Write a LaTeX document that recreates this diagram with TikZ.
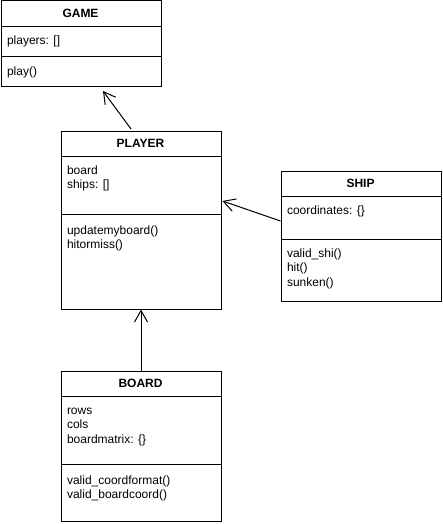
\documentclass[tikz,border=0pt]{standalone}
\usepackage{fontspec}
\setmainfont{Liberation Sans}
\usepackage{tikz}
\usetikzlibrary{arrows.meta}

\begin{document}
\begin{tikzpicture}[x=1pt, y=-1pt, line width=1pt,
    classbox/.style={draw, rectangle, inner sep=0pt, anchor=north west, minimum width=160pt},
    classname/.style={font=\fontsize{12pt}{14.4pt}\selectfont\bfseries, inner sep=0pt, anchor=base},
    member/.style={font=\fontsize{12pt}{14.4pt}\selectfont, inner sep=0pt, anchor=base west},
    assoc/.style={-{Straight Barb[length=11.5pt,width=13pt]}}]
             \useasboundingbox (0,0) rectangle (442,524);

             % GAME
             \node[classbox, minimum height=86pt] (game) at (0.5,0.5) {};
             \draw ([yshift=-26pt]game.north west) -- ([yshift=-26pt]game.north east);
             \draw ([yshift=-56pt]game.north west) -- ([yshift=-56pt]game.north east);
             \node[classname] (gamename) at (80.5,17.8) {GAME};
             \node[member] (gameplayers) at (6.5,44.5) {players: []};
             \node[member] (gameplay) at (6.5,76) {play()};

             % PLAYER
             \node[classbox, minimum height=178pt] (player) at (60.5,130.5) {};
             \draw ([yshift=-26pt]player.north west) -- ([yshift=-26pt]player.north east);
             \draw ([yshift=-84pt]player.north west) -- ([yshift=-84pt]player.north east);
             \node[classname] (playername) at (140.5,147.8) {PLAYER};
             \node[member] (playerboard) at (66.5,174.5) {board};
             \node[member] (playerships) at (66.5,188.9) {ships: []};
             \node[member] (playerupdate) at (66.5,234) {updatemyboard()};
             \node[member] (playerhit) at (66.5,248.4) {hitormiss()};

             % SHIP
             \node[classbox, minimum height=130pt] (ship) at (280.5,170.5) {};
             \draw ([yshift=-26pt]ship.north west) -- ([yshift=-26pt]ship.north east);
             \draw ([yshift=-69pt]ship.north west) -- ([yshift=-69pt]ship.north east);
             \node[classname] (shipname) at (360.5,187.8) {SHIP};
             \node[member] (shipcoords) at (286.5,214.5) {coordinates: \{\}};
             \node[member] (shipvalid) at (286.5,257.5) {valid\_shi()};
             \node[member] (shiphit) at (286.5,271.9) {hit()};
             \node[member] (shipsunken) at (286.5,286.3) {sunken()};

             % BOARD
             \node[classbox, minimum height=150pt] (board) at (60.5,370.5) {};
             \draw ([yshift=-26pt]board.north west) -- ([yshift=-26pt]board.north east);
             \draw ([yshift=-94pt]board.north west) -- ([yshift=-94pt]board.north east);
             \node[classname] (boardname) at (140.5,387.8) {BOARD};
             \node[member] (boardrows) at (66.5,414.5) {rows};
             \node[member] (boardcols) at (66.5,428.9) {cols};
             \node[member] (boardmatrix) at (66.5,443.3) {boardmatrix: \{\}};
             \node[member] (boardformat) at (66.5,484.5) {valid\_coordformat()};
             \node[member] (boardcoord) at (66.5,498.9) {valid\_boardcoord()};

             % associations
             \draw[assoc] ([xshift=-10pt,yshift=1.5pt]player.north) -- ([xshift=22pt,yshift=-3.5pt]game.south);
             \draw[assoc] ([yshift=15pt]ship.west) -- ([xshift=1pt,yshift=19pt]player.east);
             \draw[assoc] (board.north) -- (player.south);
             \end{tikzpicture}
\end{document}
